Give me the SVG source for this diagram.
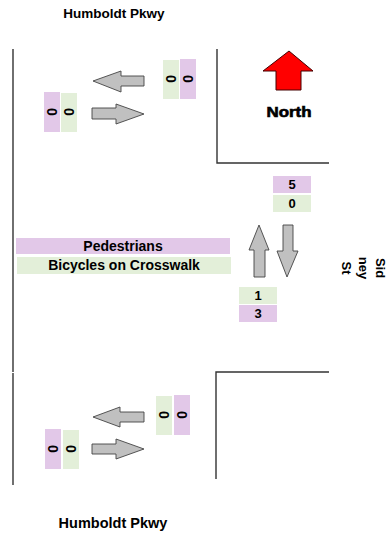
<svg xmlns="http://www.w3.org/2000/svg" width="388" height="537" viewBox="0 0 388 537">
<style>
text{font-family:"Liberation Sans",Arial,sans-serif;font-weight:bold;fill:#000}
.pu{fill:#e2c8e8}
.gr{fill:#e3efd9}
.ln{stroke:#333;stroke-width:1.4;fill:none}
.ar{fill:#c0c0c0;stroke:#444;stroke-width:0.9}
.z{font-size:14px;text-anchor:middle}
.n{font-size:13px;text-anchor:middle}
</style>
<rect width="388" height="537" fill="#fff"/>
<g id="streets">
<line class="ln" x1="13" y1="49" x2="13" y2="372"/>
<line class="ln" x1="13" y1="373" x2="13" y2="485"/>
<polyline class="ln" points="217,49 217,163 329,163"/>
<polyline class="ln" points="329,372 216,372 216,479"/>
</g>
<g id="title-top"><text x="114" y="18" font-size="13.5" text-anchor="middle">Humboldt Pkwy</text></g>
<g id="title-bottom"><text x="113" y="528" font-size="14.5" text-anchor="middle">Humboldt Pkwy</text></g>
<g id="north">
<polygon points="289,51 313,71 301,71 301,90 276,90 276,71 263,71" fill="#ff0000" stroke="#400" stroke-width="1"/>
<text x="289" y="117" font-size="14" text-anchor="middle" stroke="#000" stroke-width="0.6" textLength="45" lengthAdjust="spacingAndGlyphs">North</text>
</g>
<g id="sidney"><text transform="rotate(90 376 268)" x="376" y="268" font-size="13" text-anchor="middle"><tspan x="376">Sid</tspan><tspan x="376" dy="17">ney</tspan><tspan x="376" dy="17">St</tspan></text></g>
<g id="connectors">
<polygon class="ar" points="93,81 121,71 121,76 144,76 144,86 121,86 121,92"/>
<polygon class="ar" points="92,108 116,108 116,104 144,114 116,124 116,119 92,119"/>
<polygon class="ar" points="93,417 120,407 120,412 144,412 144,422 120,422 120,427"/>
<polygon class="ar" points="92,444 116,444 116,439 144,449 116,459 116,454 92,454"/>
<polygon class="ar" points="259,225 269,250 265,250 265,277 254,277 254,250 249,250"/>
<polygon class="ar" points="283,225 293,225 293,251 298,251 287,277 277,251 283,251"/>
</g>
<g id="top-right-counts">
<rect class="gr" x="163" y="60" width="16" height="39"/>
<rect class="pu" x="180" y="59" width="16" height="40"/>
<text class="z" transform="rotate(90 171 79)" x="171" y="79" dy="0.35em">0</text>
<text class="z" transform="rotate(90 188 79)" x="188" y="79" dy="0.35em">0</text>
</g>
<g id="top-left-counts">
<rect class="pu" x="44" y="92" width="16" height="40"/>
<rect class="gr" x="61" y="93" width="16" height="39"/>
<text class="z" transform="rotate(90 52 112)" x="52" y="112" dy="0.35em">0</text>
<text class="z" transform="rotate(90 69 112)" x="69" y="112" dy="0.35em">0</text>
</g>
<g id="bottom-right-counts">
<rect class="gr" x="156" y="396" width="16" height="39"/>
<rect class="pu" x="174" y="395" width="16" height="40"/>
<text class="z" transform="rotate(90 164 415)" x="164" y="415" dy="0.35em">0</text>
<text class="z" transform="rotate(90 182 415)" x="182" y="415" dy="0.35em">0</text>
</g>
<g id="bottom-left-counts">
<rect class="pu" x="45" y="429" width="16" height="40"/>
<rect class="gr" x="63" y="430" width="16" height="39"/>
<text class="z" transform="rotate(90 53 449)" x="53" y="449" dy="0.35em">0</text>
<text class="z" transform="rotate(90 71 449)" x="71" y="449" dy="0.35em">0</text>
</g>
<g id="north-counts">
<rect class="pu" x="273" y="176" width="38" height="17"/>
<rect class="gr" x="273" y="195" width="38" height="17"/>
<text class="n" x="292" y="189">5</text>
<text class="n" x="292" y="208">0</text>
</g>
<g id="south-counts">
<rect class="gr" x="239" y="287" width="38" height="17"/>
<rect class="pu" x="239" y="305" width="38" height="17"/>
<text class="n" x="258" y="300">1</text>
<text class="n" x="258" y="318">3</text>
</g>
<g id="legend">
<rect class="pu" x="16" y="238" width="214" height="16"/>
<rect class="gr" x="17" y="257" width="214" height="17"/>
<text x="123" y="251" font-size="14" text-anchor="middle">Pedestrians</text>
<text x="124" y="270" font-size="14" text-anchor="middle">Bicycles on Crosswalk</text>
</g>
</svg>
